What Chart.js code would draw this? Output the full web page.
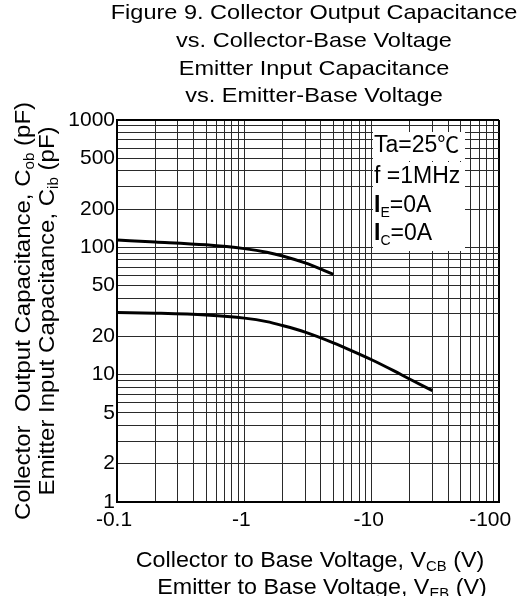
<!DOCTYPE html>
<html><head><meta charset="utf-8">
<script src="https://cdn.jsdelivr.net/npm/chart.js@4.4.0/dist/chart.umd.min.js"></script>
<style>html,body{margin:0;padding:0;background:#fff;}canvas{display:block;}</style>
</head><body>
<canvas id="c" width="522" height="596"></canvas>
<script>
// ---- data ----
const titleLines = ["Figure 9. Collector Output Capacitance", "vs. Collector-Base Voltage", "Emitter Input Capacitance", "vs. Emitter-Base Voltage"];
const cibVoltage = [-0.1, -0.2, -0.5, -1, -1.5, -2, -3, -4, -5];
const cibCap     = [114, 110.2, 104.7, 97.7, 91.6, 85.5, 75.4, 67.4, 61.2];
const cobVoltage = [-0.1, -0.2, -0.5, -1, -1.5, -2, -3, -5, -7, -10, -15, -20, -30];
const cobCap     = [30.8, 30.4, 29.4, 27.8, 26.1, 24.3, 21.6, 17.8, 15.4, 13.1, 10.7, 9.2, 7.5];
const xTickLabels = ["-0.1", "-1", "-10", "-100"];
const yTickLabels = ["1", "2", "5", "10", "20", "50", "100", "200", "500", "1000"];
const xTitle1 = ["Collector to Base Voltage, V", "CB", " (V)"];
const xTitle2 = ["Emitter to Base Voltage, V", "EB", " (V)"];
const yTitle1 = ["Collector  Output Capacitance, C", "ob", " (pF)"];
const yTitle2 = ["Emitter Input Capacitance, C", "ib", " (pF)"];
const condTa = ["Ta=25", "\u2103"];
const condF = "f =1MHz";
const condIE = ["I", "E", "=0A"];
const condIC = ["I", "C", "=0A"];

const FONT = "'Liberation Sans', Arial, Helvetica, sans-serif";
const CJK = "'Noto Sans CJK JP', 'Noto Sans CJK SC', sans-serif";
const xTickVals = xTickLabels.map(s => Math.abs(parseFloat(s)));
const yTickVals = yTickLabels.map(s => parseFloat(s));

function logTicks(minExp, maxExp) {
  const t = [];
  for (let e = minExp; e < maxExp; e++)
    for (let m = 1; m <= 9; m++) t.push({ value: Number((m * Math.pow(10, e)).toPrecision(4)) });
  t.push({ value: Math.pow(10, maxExp) });
  return t;
}
function near(a, b) { return Math.abs(a - b) / b < 1e-6; }

function richText(ctx, parts, x, y, o) {
  ctx.save();
  ctx.translate(x, y);
  if (o.rotate) ctx.rotate(o.rotate);
  ctx.scale(o.sx || 1, 1);
  ctx.fillStyle = '#000';
  ctx.textBaseline = 'alphabetic';
  ctx.textAlign = 'left';
  const fontOf = p => (p.bold ? 'bold ' : '') + p.size + 'px ' + (p.family || FONT);
  let w = 0;
  parts.forEach(p => { ctx.font = fontOf(p); w += ctx.measureText(p.t).width; });
  let cx = o.align === 'center' ? -w / 2 : 0;
  parts.forEach(p => { ctx.font = fontOf(p); ctx.fillText(p.t, cx, p.dy || 0); cx += ctx.measureText(p.t).width; });
  ctx.restore();
}
function subParts(arr, size, subSize, dy, boldFirst) {
  return [
    { t: arr[0], size: size, bold: !!boldFirst },
    { t: arr[1], size: subSize, dy: dy },
    { t: arr[2], size: size }
  ];
}

const textPlugin = {
  id: 'texts',
  afterDraw(chart) {
    const ctx = chart.ctx;
    // title
    const tb = [18.5, 46.5, 75, 102];
    titleLines.forEach((l, i) => richText(ctx, [{ t: l, size: 21 }], 314, tb[i], { align: 'center', sx: 1.12 }));
    // x axis title
    richText(ctx, subParts(xTitle1, 22, 14, 4), 310, 567, { align: 'center', sx: 1.06 });
    richText(ctx, subParts(xTitle2, 22, 14, 4), 322, 594, { align: 'center', sx: 1.06 });
    // y axis title
    richText(ctx, subParts(yTitle1, 22, 14, 4), 30, 311, { align: 'center', sx: 1.09, rotate: -Math.PI / 2 });
    richText(ctx, subParts(yTitle2, 22, 14, 4), 54, 311, { align: 'center', sx: 1.09, rotate: -Math.PI / 2 });
    // conditions box
    ctx.save();
    ctx.fillStyle = '#fff';
    ctx.fillRect(373, 132, 92, 29);
    ctx.fillRect(373, 162, 92, 89);
    ctx.restore();
    richText(ctx, [{ t: condTa[0], size: 23 }, { t: condTa[1], size: 22, family: CJK }], 374, 152, {});
    richText(ctx, [{ t: condF, size: 23 }], 374, 183, {});
    richText(ctx, subParts(condIE, 23, 14, 5, true), 374, 212, {});
    richText(ctx, subParts(condIC, 23, 14, 5, true), 374, 240, {});
  }
};

const toPts = (vs, cs) => vs.map((v, i) => ({ x: Math.abs(v), y: cs[i] }));

Chart.defaults.font.family = FONT;
Chart.defaults.color = '#000';

new Chart(document.getElementById('c'), {
  type: 'line',
  data: {
    datasets: [
      { label: 'Cib', data: toPts(cibVoltage, cibCap), borderColor: '#000', borderWidth: 3, pointRadius: 0, cubicInterpolationMode: 'monotone', fill: false },
      { label: 'Cob', data: toPts(cobVoltage, cobCap), borderColor: '#000', borderWidth: 3, pointRadius: 0, cubicInterpolationMode: 'monotone', fill: false }
    ]
  },
  options: {
    responsive: false,
    animation: false,
    devicePixelRatio: 1,
    layout: { padding: { top: 120, right: 23, bottom: 0, left: 0 } },
    plugins: { legend: { display: false }, tooltip: { enabled: false }, title: { display: false } },
    scales: {
      x: {
        type: 'logarithmic', min: 0.1, max: 100,
        afterBuildTicks: s => { s.ticks = logTicks(-1, 2); },
        afterFit: s => { s.height = 94; s.paddingLeft = 0; s.paddingRight = 0; },
        ticks: {
          autoSkip: false, maxRotation: 0, minRotation: 0, padding: 6, labelOffset: -3,
          font: { size: 21 }, color: '#000',
          callback: (v) => {
            const i = xTickVals.findIndex(t => near(v, t));
            if (i < 0) return '';
            return i === xTickVals.length - 1 ? xTickLabels[i] + '  ' : xTickLabels[i];
          }
        },
        grid: {
          drawTicks: false,
          color: c => (c.tick && near(c.tick.value, 100)) ? '#000' : '#2a2a2a',
          lineWidth: c => (c.tick && near(c.tick.value, 100)) ? 2 : 1
        },
        border: { display: true, color: '#000', width: 2 }
      },
      y: {
        type: 'logarithmic', min: 1, max: 1000,
        afterBuildTicks: s => { s.ticks = logTicks(0, 3); },
        afterFit: s => { s.width = 117; s.paddingTop = 0; s.paddingBottom = 0; },
        ticks: {
          autoSkip: false, padding: 2, font: { size: 21 }, color: '#000',
          callback: (v) => {
            const i = yTickVals.findIndex(t => near(v, t));
            return i < 0 ? '' : yTickLabels[i];
          }
        },
        grid: {
          drawTicks: false,
          color: c => (c.tick && near(c.tick.value, 1000)) ? '#000' : '#2a2a2a',
          lineWidth: c => (c.tick && near(c.tick.value, 1000)) ? 2 : 1
        },
        border: { display: true, color: '#000', width: 2 }
      }
    }
  },
  plugins: [textPlugin]
});
</script>
</body></html>
